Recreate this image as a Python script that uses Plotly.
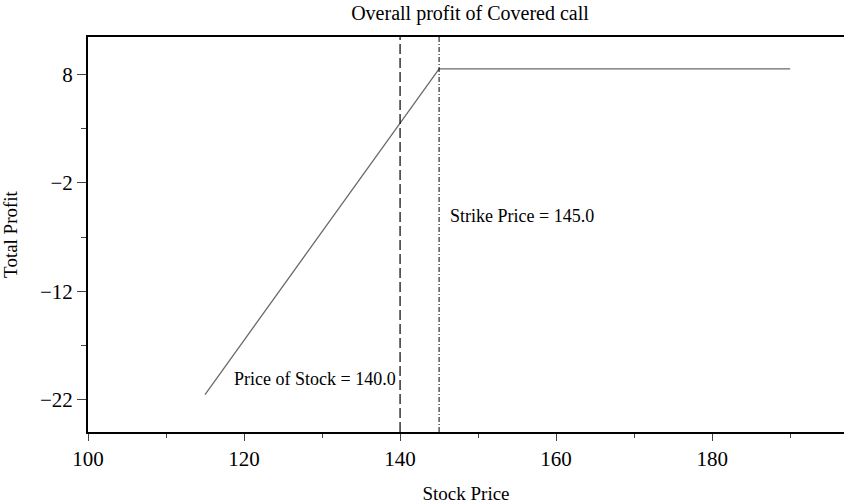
import plotly.graph_objects as go

stock_price = [115, 145, 190]
total_profit = [-21.5, 8.5, 8.5]
purchase_price = 140.0
strike_price = 145.0
x_ticks = [100, 120, 140, 160, 180]
y_ticks = [8, -2, -12, -22]

FONT = "Liberation Serif, Times New Roman, serif"

fig = go.Figure()
fig.add_trace(go.Scatter(x=stock_price, y=total_profit, mode="lines",
                         line=dict(color="#6a6a6a", width=1.3), showlegend=False))

y_range = [-24.95, 11.43]
fig.add_trace(go.Scatter(x=[purchase_price, purchase_price], y=y_range, mode="lines",
                         line=dict(color="black", width=1.2, dash="10px,4px"), showlegend=False))
fig.add_trace(go.Scatter(x=[strike_price, strike_price], y=y_range, mode="lines",
                         line=dict(color="black", width=1, dash="5px,2px,1px,2px"), showlegend=False))

fig.add_annotation(x=strike_price, y=-5.1, xref="x", yref="y", text=f"Strike Price = {strike_price}",
                   showarrow=False, xanchor="left", xshift=9, font=dict(family=FONT, size=18, color="black"))
fig.add_annotation(x=purchase_price, y=-20.1, xref="x", yref="y", text=f"Price of Stock = {purchase_price}",
                   showarrow=False, xanchor="right", xshift=-2, font=dict(family=FONT, size=18, color="black"))

fig.update_layout(
    width=844, height=504,
    margin=dict(l=88, r=0, t=37, b=72, autoexpand=False),
    paper_bgcolor="white", plot_bgcolor="white",
    font=dict(family=FONT, size=19, color="black"),
    title=dict(text="Overall profit of Covered call", x=470 / 844, xanchor="center", y=1 - 13 / 504, yanchor="middle",
               font=dict(family=FONT, size=20, color="black")),
    xaxis=dict(range=[100, 196.9], tickvals=x_ticks, ticks="outside", ticklen=7, tickwidth=1,
               showline=True, linecolor="black", linewidth=2, mirror=True, showgrid=False, zeroline=False,
               automargin=False,
               minor=dict(dtick=10, tick0=0, ticks="outside", ticklen=4, tickwidth=1, showgrid=False),
               title=dict(text="Stock Price", standoff=20, font=dict(family=FONT, size=19)),
               tickfont=dict(family=FONT, size=21)),
    yaxis=dict(range=y_range, tickvals=y_ticks, ticktext=["8", "\u22122", "\u221212", "\u221222"],
               ticks="outside", ticklen=9, tickwidth=1,
               showline=True, linecolor="black", linewidth=2, showgrid=False, zeroline=False,
               automargin=False,
               minor=dict(dtick=5, tick0=3, ticks="outside", ticklen=5, tickwidth=1, showgrid=False),
               title=dict(text="Total Profit", standoff=17, font=dict(family=FONT, size=19)),
               tickfont=dict(family=FONT, size=21)),
)

fig.write_html("out.html", config={"displayModeBar": False},
               post_script="document.body.style.margin='0';")
